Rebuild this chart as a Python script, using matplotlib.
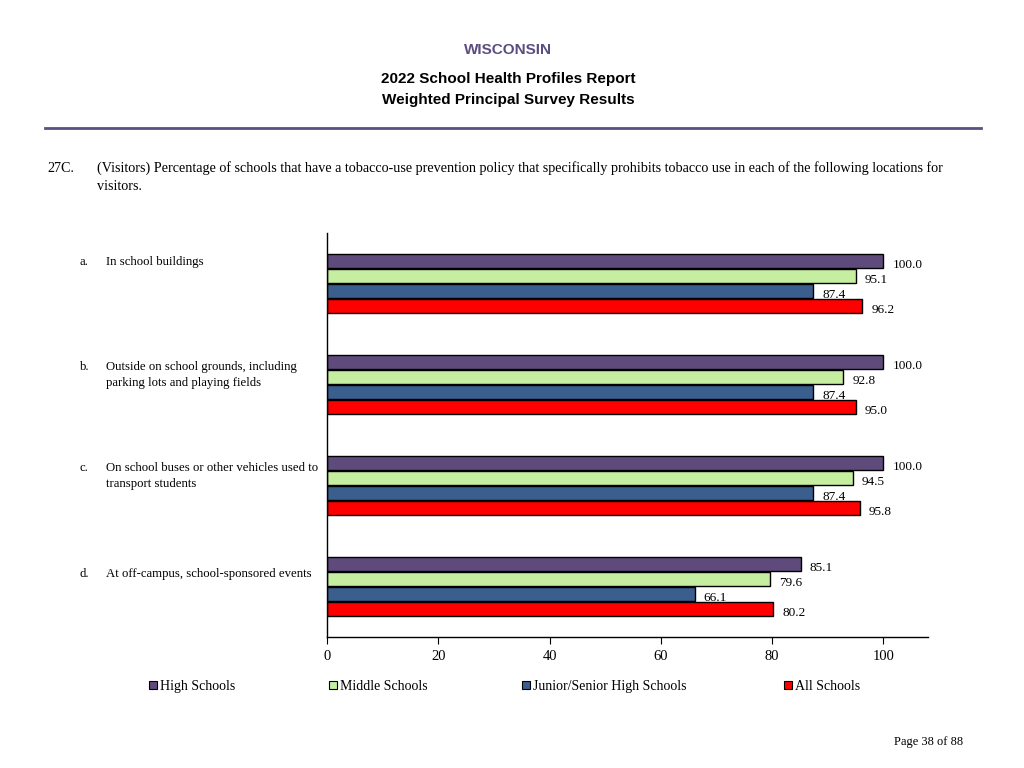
import matplotlib
matplotlib.use("Agg")
import matplotlib.pyplot as plt
from matplotlib.patches import Rectangle

categories = [
    "In school buildings",
    "Outside on school grounds, including\nparking lots and playing fields",
    "On school buses or other vehicles used to\ntransport students",
    "At off-campus, school-sponsored events",
]
letters = ["a.", "b.", "c.", "d."]
series_names = ["High Schools", "Middle Schools", "Junior/Senior High Schools", "All Schools"]
high = [100.0, 100.0, 100.0, 85.1]
middle = [95.1, 92.8, 94.5, 79.6]
junior = [87.4, 87.4, 87.4, 66.1]
all_schools = [96.2, 95.0, 95.8, 80.2]
series_values = [high, middle, junior, all_schools]
colors = ["#5f4b7b", "#c6eea0", "#3a5f8f", "#ff0000"]
xticks = [0, 20, 40, 60, 80, 100]

serif = "Liberation Serif"
sans = "Liberation Sans"

fig = plt.figure(figsize=(10.24, 7.68), dpi=100)

# Header
fig.text(508/1024, 1-50/768, "WISCONSIN", ha="center", va="center", fontsize=11,
         fontweight="bold", color="#5b4d80", family=sans)
fig.text(508/1024, 1-79/768, "2022 School Health Profiles Report", ha="center", va="center",
         fontsize=11, fontweight="bold", color="black", family=sans)
fig.text(508/1024, 1-100/768, "Weighted Principal Survey Results", ha="center", va="center",
         fontsize=11, fontweight="bold", color="black", family=sans)
fig.add_artist(plt.Line2D([45/1024, 981/1024], [1-128/768, 1-128/768], color="#5b5080",
                          linewidth=2, transform=fig.transFigure))

# Question text
fig.text(47/1024, 1-168/768, "27C.", ha="left", va="center", fontsize=10.2, family=serif)
fig.text(97/1024, 1-168/768,
         "(Visitors) Percentage of schools that have a tobacco-use prevention policy that specifically prohibits tobacco use in each of the following locations for",
         ha="left", va="center", fontsize=10.2, family=serif)
fig.text(97/1024, 1-186/768, "visitors.", ha="left", va="center", fontsize=10.2, family=serif)

# Axes
ax = fig.add_axes([327/1024, 1-637/768, (928-327)/1024, (637-233)/768])
offsets = [-0.2228, -0.0743, 0.0743, 0.2228]
bar_h = 0.14
for s, (vals, col) in enumerate(zip(series_values, colors)):
    ys = [i + offsets[s] for i in range(len(categories))]
    ax.barh(ys, vals, height=bar_h, color=col, edgecolor="black", linewidth=1.0, zorder=2)
    for y, v in zip(ys, vals):
        ax.text(v + 1.6, y + 0.035, f"{v:.1f}", ha="left", va="center", fontsize=9.5,
                family=serif, zorder=1,
                bbox=dict(facecolor="white", edgecolor="none", pad=0.3))

ax.set_ylim(3.5, -0.5)
ax.set_xlim(0, 108)
ax.set_xticks(xticks)
ax.set_xticklabels([str(t) for t in xticks], fontsize=10.5, family=serif)
ax.set_yticks([])
ax.spines["top"].set_visible(False)
ax.spines["right"].set_visible(False)
ax.spines["left"].set_linewidth(1.0)
ax.spines["bottom"].set_linewidth(1.0)
ax.tick_params(axis="x", direction="out", length=5, pad=4)

# Category labels
label_y = [261, 366, 467, 573]
for let, cat, yc in zip(letters, categories, label_y):
    ytop = 1 - (yc - 5) / 768
    fig.text(80/1024, ytop, let, ha="left", va="top", fontsize=9.2, family=serif)
    fig.text(106/1024, ytop, cat, ha="left", va="top", fontsize=9.2, family=serif,
             linespacing=1.4)

# Legend
leg_x = [149, 329, 522, 784]
for name, col, x in zip(series_names, colors, leg_x):
    fig.add_artist(Rectangle((x/1024, 1-689/768), 8/1024, 8/768, facecolor=col,
                             edgecolor="black", linewidth=0.8, transform=fig.transFigure))
    fig.text((x + 11)/1024, 1-685/768, name, ha="left", va="center_baseline",
             fontsize=10, family=serif)

fig.text(963/1024, 1-742/768, "Page 38 of 88", ha="right", va="center", fontsize=9, family=serif)

fig.savefig("out.png", dpi=100)
